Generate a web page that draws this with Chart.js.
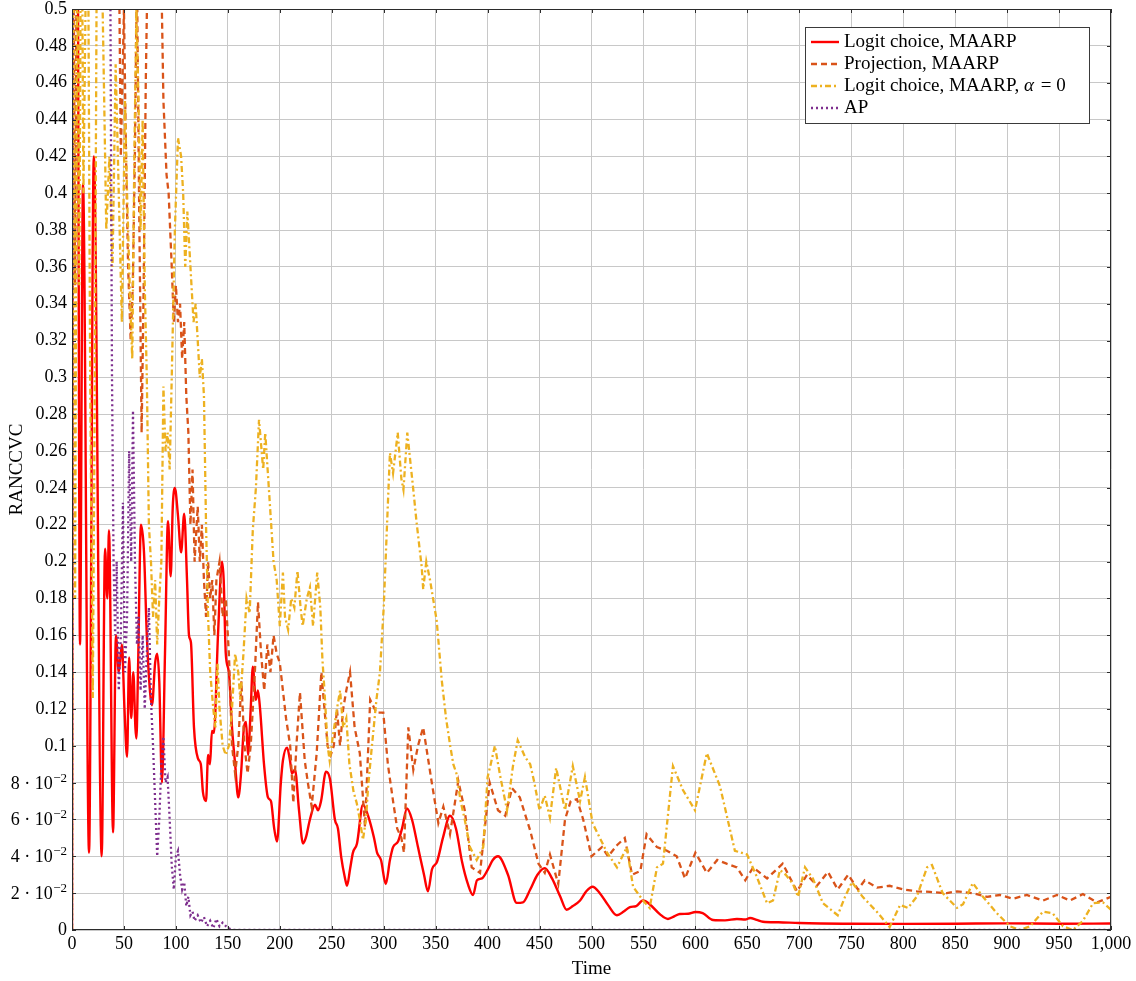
<!DOCTYPE html>
<html>
<head>
<meta charset="utf-8">
<script src="https://cdn.jsdelivr.net/npm/chart.js@4.4.1/dist/chart.umd.min.js"></script>
<style>
html, body { margin: 0; padding: 0; background: #fff; }
#wrap { width: 1136px; height: 981px; position: relative; }
</style>
</head>
<body>
<div id="wrap"><canvas id="myChart"></canvas></div>
<script>
// tick values
var xTicks = [0, 50, 100, 150, 200, 250, 300, 350, 400, 450, 500, 550, 600, 650, 700, 750, 800, 850, 900, 950, 1000];
var yTicks = [0, 0.02, 0.04, 0.06, 0.08, 0.1, 0.12, 0.14, 0.16, 0.18, 0.2, 0.22, 0.24, 0.26, 0.28,
              0.3, 0.32, 0.34, 0.36, 0.38, 0.4, 0.42, 0.44, 0.46, 0.48, 0.5];

var labels = ['Logit choice, MAARP', 'Projection, MAARP', 'Logit choice, MAARP, \u03b1 = 0', 'AP'];

// Logit choice, MAARP
var logitT = [0, 1, 5, 7.7, 10.6, 16.4, 21, 28.6, 31.8, 34,
  35.6, 39.5, 42.3, 45, 48, 50.5, 53, 55, 57, 59,
  61, 62, 63.5, 66.4, 69.3, 72, 75, 77, 80, 82,
  84, 86.6, 89.5, 92.4, 95, 97, 99, 102, 105, 108,
  110.7, 112.6, 114.5, 117.4, 121.3, 124, 126, 129, 131, 132.8,
  134.7, 136.6, 140.5, 144.4, 146, 148, 151, 154, 157, 160,
  162.7, 165.5, 167.5, 169.4, 172, 174, 177, 179, 181, 184.8,
  188.6, 191.5, 194.4, 197.3, 201, 203, 207, 209.8, 211.7, 214.6,
  218.5, 222.3, 225, 229, 233.9, 236.8, 239.7, 244.5, 248.3, 253,
  256, 259, 262.8, 264.7, 267.6, 270.4, 274.3, 280, 285, 290.7,
  293.6, 297.4, 302, 306, 309, 313.8, 317.6, 322.4, 327.2, 333,
  338.8, 342.6, 346.5, 351.3, 357, 363.8, 369.6, 375.4, 381, 386,
  389.8, 394.6, 400.4, 405, 410, 419.6, 428, 434, 441, 448,
  455, 462, 470, 476, 482, 489, 495, 501, 508, 516,
  524.5, 531, 537, 543, 549.6, 556, 566, 573.6, 580, 585,
  593, 600, 607, 617, 628.5, 640, 648, 652.6, 659, 665,
  680, 700, 750, 800, 850, 900, 950, 1000];
var logitV = [0, 0.6, 0.6, 0.155, 0.405, 0.042, 0.42, 0.04, 0.207, 0.18,
  0.217, 0.053, 0.16, 0.14, 0.155, 0.12, 0.094, 0.148, 0.115, 0.14,
  0.11, 0.104, 0.14, 0.22, 0.205, 0.16, 0.13, 0.122, 0.145, 0.15,
  0.135, 0.08, 0.15, 0.222, 0.192, 0.23, 0.24, 0.225, 0.205, 0.226,
  0.19, 0.16, 0.156, 0.11, 0.093, 0.09, 0.075, 0.07, 0.095, 0.09,
  0.108, 0.107, 0.16, 0.2, 0.19, 0.15, 0.14, 0.11, 0.09, 0.072,
  0.085, 0.11, 0.113, 0.095, 0.12, 0.143, 0.125, 0.13, 0.12, 0.09,
  0.072, 0.07, 0.056, 0.048, 0.08, 0.092, 0.099, 0.092, 0.085, 0.087,
  0.065, 0.047, 0.05, 0.06, 0.068, 0.065, 0.07, 0.086, 0.082, 0.06,
  0.055, 0.04, 0.028, 0.024, 0.033, 0.042, 0.047, 0.068, 0.062, 0.05,
  0.042, 0.038, 0.025, 0.038, 0.045, 0.048, 0.055, 0.066, 0.06, 0.045,
  0.03, 0.021, 0.033, 0.037, 0.05, 0.062, 0.055, 0.037, 0.025, 0.019,
  0.027, 0.028, 0.033, 0.038, 0.04, 0.03, 0.0147, 0.015, 0.022, 0.03,
  0.0336, 0.028, 0.018, 0.011, 0.013, 0.016, 0.021, 0.0235, 0.02, 0.0135,
  0.008, 0.01, 0.0124, 0.013, 0.016, 0.014, 0.0085, 0.006, 0.0075, 0.0087,
  0.0088, 0.0098, 0.0092, 0.0054, 0.0052, 0.006, 0.0057, 0.0065, 0.0055, 0.0045,
  0.0042, 0.0038, 0.0034, 0.0033, 0.0034, 0.0036, 0.0034, 0.0035];

// Projection, MAARP
var projT = [0, 1, 3, 5, 44, 47, 50, 52, 54, 56.5,
  58.5, 60.5, 62.5, 64.5, 67, 69, 71, 73.5, 85, 88,
  91, 93, 96, 98, 100, 102, 104, 106, 108, 110,
  112, 114, 116, 118, 121, 123, 125, 127, 129, 131,
  133, 135, 137, 139, 142, 145, 148, 151, 154, 157,
  160, 163, 166, 169, 172, 176, 179, 182, 185, 188,
  191, 194, 197, 200, 203, 206, 210, 213, 216, 219.4,
  224, 227, 230.7, 235.5, 240, 243, 246, 249, 252, 255,
  258, 261, 264, 267.6, 272, 277, 282, 287, 293, 299.6,
  304, 309, 313, 317, 319.5, 323.7, 328.5, 333, 338, 346,
  352.6, 357.4, 363.8, 371.8, 378, 384.7, 392.7, 402, 410, 417,
  423.5, 431, 441, 449, 455, 460, 468, 474.5, 480, 486,
  492, 500, 510, 516, 524.5, 532, 539, 547, 553, 563,
  572.6, 582, 590, 600, 611, 621, 630, 640, 648, 655.6,
  669, 684, 697.8, 707.4, 717, 727.6, 737, 747, 756.5, 763,
  774.8, 787, 800, 813, 825.8, 842, 851.8, 867, 880.7, 893,
  905.7, 919, 934.6, 948, 960.5, 973, 986.5, 1000];
var projV = [0, 0.6, 0.35, 0.6, 0.6, 0.42, 0.5, 0.42, 0.36, 0.32,
  0.35, 0.42, 0.52, 0.4, 0.27, 0.35, 0.46, 0.55, 0.55, 0.45,
  0.41, 0.4, 0.36, 0.33, 0.35, 0.33, 0.34, 0.31, 0.33, 0.29,
  0.27, 0.22, 0.25, 0.2, 0.23, 0.2, 0.22, 0.19, 0.17, 0.2,
  0.18, 0.19, 0.16, 0.19, 0.2, 0.17, 0.18, 0.15, 0.1, 0.085,
  0.1, 0.135, 0.1, 0.085, 0.1, 0.14, 0.178, 0.15, 0.13, 0.155,
  0.14, 0.16, 0.15, 0.145, 0.13, 0.115, 0.1, 0.069, 0.1, 0.129,
  0.092, 0.08, 0.067, 0.096, 0.14, 0.12, 0.1, 0.095, 0.1, 0.12,
  0.1, 0.12, 0.13, 0.14, 0.11, 0.096, 0.056, 0.125, 0.118, 0.118,
  0.09, 0.07, 0.055, 0.05, 0.042, 0.11, 0.087, 0.1, 0.11, 0.081,
  0.058, 0.067, 0.052, 0.081, 0.065, 0.034, 0.031, 0.08, 0.065, 0.062,
  0.077, 0.072, 0.054, 0.036, 0.031, 0.041, 0.025, 0.06, 0.07, 0.071,
  0.06, 0.04, 0.045, 0.04, 0.046, 0.05, 0.03, 0.032, 0.052, 0.045,
  0.043, 0.04, 0.028, 0.042, 0.031, 0.038, 0.036, 0.034, 0.027, 0.034,
  0.028, 0.036, 0.021, 0.03, 0.024, 0.0315, 0.022, 0.03, 0.022, 0.027,
  0.023, 0.024, 0.022, 0.021, 0.0207, 0.02, 0.021, 0.02, 0.018, 0.019,
  0.017, 0.019, 0.016, 0.019, 0.016, 0.0195, 0.015, 0.018];

// Logit choice, MAARP, alpha = 0
var alphaT = [0, 1, 3, 5, 7, 9, 11, 15, 17.5, 20,
  22, 24, 28, 31, 33, 36, 39, 42, 45, 48,
  51, 53, 56, 58, 60, 62, 64, 66, 68, 70,
  72, 74, 76, 78, 80, 82, 84, 86, 88, 90,
  92, 94, 96, 99, 102, 105, 107, 109, 111, 113,
  115, 117, 119, 121, 123, 125, 127, 129, 131, 133,
  136, 138, 140, 142, 145, 148, 151, 154, 157, 160,
  162, 165, 168, 171, 174, 177, 180, 184, 186, 190,
  194, 197, 200, 203, 205, 208, 211, 214, 217, 220,
  222, 226, 229, 232, 236, 239, 241, 243, 246, 248,
  251, 255, 258, 261, 264, 267, 271, 274, 277, 280,
  283, 285, 288, 293, 296.4, 300, 303, 306, 309, 313.5,
  317, 319, 322.7, 328.5, 331.7, 336.6, 338, 341, 344.6, 351,
  355.8, 360, 364, 367, 370, 374, 378, 383, 389.5, 395.8,
  400, 403, 407, 412, 418.7, 424.4, 429, 436, 441, 445,
  450, 455, 460, 466, 474.5, 482, 489, 493.7, 501, 508,
  515, 524.5, 534, 540, 549.6, 556, 563, 568.8, 578.4, 588,
  599.6, 611, 623.7, 638, 649.7, 659, 669, 674.7, 681.4, 687,
  693.9, 698.8, 705.5, 713, 722.8, 737, 744, 750.7, 761, 774.8,
  787, 797, 804.6, 813, 823, 827.7, 838, 851.8, 857.6, 867,
  876.8, 890, 902.8, 912.4, 922, 934.6, 944, 953.8, 963.4, 973,
  982.7, 992.3, 1000];
var alphaV = [0, 0.6, 0.18, 0.55, 0.35, 0.6, 0.4, 0.6, 0.3, 0.126,
  0.3, 0.55, 0.55, 0.45, 0.38, 0.42, 0.36, 0.47, 0.4, 0.33,
  0.45, 0.4, 0.34, 0.31, 0.42, 0.5, 0.45, 0.38, 0.44, 0.35,
  0.3, 0.22, 0.2, 0.17, 0.19, 0.155, 0.18, 0.2, 0.295, 0.26,
  0.27, 0.25, 0.3, 0.38, 0.43, 0.42, 0.4, 0.36, 0.39, 0.37,
  0.35, 0.33, 0.34, 0.32, 0.3, 0.31, 0.29, 0.22, 0.17, 0.14,
  0.12, 0.11, 0.145, 0.12, 0.1, 0.095, 0.1, 0.12, 0.15, 0.14,
  0.125, 0.15, 0.18, 0.172, 0.217, 0.24, 0.277, 0.25, 0.27, 0.235,
  0.2, 0.19, 0.165, 0.194, 0.17, 0.163, 0.18, 0.175, 0.195, 0.175,
  0.165, 0.18, 0.186, 0.165, 0.194, 0.175, 0.147, 0.13, 0.1, 0.092,
  0.105, 0.12, 0.13, 0.11, 0.115, 0.09, 0.075, 0.069, 0.06, 0.049,
  0.06, 0.078, 0.096, 0.125, 0.14, 0.175, 0.217, 0.259, 0.248, 0.27,
  0.245, 0.239, 0.27, 0.239, 0.221, 0.197, 0.185, 0.2, 0.19, 0.168,
  0.136, 0.115, 0.1, 0.09, 0.085, 0.07, 0.06, 0.045, 0.038, 0.045,
  0.083, 0.09, 0.1, 0.084, 0.065, 0.089, 0.103, 0.094, 0.09, 0.08,
  0.065, 0.073, 0.061, 0.088, 0.065, 0.089, 0.07, 0.083, 0.058, 0.05,
  0.042, 0.034, 0.045, 0.0235, 0.016, 0.012, 0.034, 0.036, 0.089, 0.076,
  0.065, 0.096, 0.078, 0.043, 0.041, 0.029, 0.0145, 0.016, 0.0326, 0.03,
  0.025, 0.018, 0.034, 0.028, 0.0145, 0.008, 0.018, 0.026, 0.018, 0.0098,
  0.0016, 0.0136, 0.012, 0.018, 0.034, 0.0353, 0.02, 0.012, 0.014, 0.0255,
  0.018, 0.0092, 0.002, 0, 0.002, 0.01, 0.009, 0.002, 0, 0.005,
  0.0145, 0.015, 0.011];

// AP
var apT = [0, 1, 35, 37, 38.5, 40, 41.5, 43, 45, 47,
  49, 51, 53, 55, 57, 58.7, 60.6, 62.5, 64, 66,
  68, 70, 72, 74, 76, 78, 80, 82, 84, 86,
  88, 90, 92, 94, 96, 98, 100, 102, 104, 106,
  108, 110, 112, 114, 116, 118, 121, 124, 127, 130,
  133, 136, 139, 142, 145, 150, 155, 1000];
var apV = [0, 0.6, 0.6, 0.5, 0.3, 0.2, 0.16, 0.2, 0.13, 0.16,
  0.232, 0.14, 0.17, 0.26, 0.2, 0.282, 0.2, 0.155, 0.17, 0.13,
  0.16, 0.12, 0.15, 0.175, 0.125, 0.1, 0.07, 0.04, 0.06, 0.09,
  0.105, 0.08, 0.083, 0.06, 0.035, 0.022, 0.04, 0.043, 0.03, 0.022,
  0.026, 0.013, 0.018, 0.008, 0.01, 0.005, 0.008, 0.004, 0.007, 0.002,
  0.005, 0.001, 0.006, 0.002, 0.004, 0.001, 0, 0];


function pts(t, v) {
    return t.map(function (x, i) { return {x: x, y: v[i]}; });
}

// small values get a scientific label drawn by the sciLabels plugin
function yLabel(v) {
    var k = Math.round(v * 100);
    if (k === 0) return '0';
    if (k < 10) return '';
    return String(k / 100);
}

var serif = "'Liberation Serif', 'Times New Roman', serif";

// "k · 10^-2" labels with a real superscript
const sciPlugin = {
    id: 'sciLabels',
    afterDraw(chart) {
        const ctx = chart.ctx, a = chart.chartArea, sy = chart.scales.y;
        ctx.save();
        ctx.fillStyle = '#000';
        ctx.textBaseline = 'alphabetic';
        yTicks.forEach(function (v) {
            var k = Math.round(v * 100);
            if (k === 0 || k >= 10) return;
            var y = sy.getPixelForValue(v) + 6;
            var right = a.left - 5;
            ctx.font = '13px ' + serif;
            var sup = '\u22122';
            var sw = ctx.measureText(sup).width;
            ctx.textAlign = 'right';
            ctx.fillText(sup, right, y - 7);
            ctx.font = '18px ' + serif;
            ctx.fillText(k + ' \u00b7 10', right - sw - 0.5, y);
        });
        ctx.restore();
    }
};

// black frame + inward tick marks like pgfplots
const framePlugin = {
    id: 'frame',
    afterDatasetsDraw(chart) {
        const ctx = chart.ctx, a = chart.chartArea, sx = chart.scales.x, sy = chart.scales.y;
        ctx.save();
        ctx.strokeStyle = '#2b2b2b';
        ctx.lineWidth = 1;
        ctx.beginPath();
        sy.ticks.forEach(function (t) {
            var y = Math.round(sy.getPixelForValue(t.value)) + 0.5;
            ctx.moveTo(a.left, y); ctx.lineTo(a.left + 4, y);
            ctx.moveTo(a.right, y); ctx.lineTo(a.right - 4, y);
        });
        sx.ticks.forEach(function (t) {
            var x = Math.round(sx.getPixelForValue(t.value)) + 0.5;
            ctx.moveTo(x, a.bottom); ctx.lineTo(x, a.bottom - 4);
            ctx.moveTo(x, a.top); ctx.lineTo(x, a.top + 4);
        });
        ctx.stroke();
        ctx.strokeRect(Math.round(a.left) + 0.5, Math.round(a.top) + 0.5, Math.round(a.width) - 1, Math.round(a.height) - 1);
        ctx.restore();
    }
};

// boxed legend in the top right corner
const legendPlugin = {
    id: 'boxLegend',
    afterDraw(chart) {
        const ctx = chart.ctx, a = chart.chartArea;
        const bx = a.right - 306, by = a.top + 18, bw = 284, bh = 96;
        ctx.save();
        ctx.fillStyle = '#fff';
        ctx.fillRect(bx, by, bw, bh);
        ctx.strokeStyle = '#3a3a3a';
        ctx.lineWidth = 1;
        ctx.strokeRect(bx + 0.5, by + 0.5, bw, bh);
        chart.data.datasets.forEach(function (ds, i) {
            var y = by + 15 + i * 22;
            ctx.strokeStyle = ds.borderColor;
            ctx.lineWidth = ds.borderWidth;
            ctx.setLineDash(ds.borderDash || []);
            ctx.beginPath();
            ctx.moveTo(bx + 6, y);
            ctx.lineTo(bx + 34, y);
            ctx.stroke();
            ctx.setLineDash([]);
            ctx.fillStyle = '#000';
            ctx.textBaseline = 'middle';
            ctx.font = '19px ' + serif;
            var tx = bx + 39;
            if (i === 2) {
                var head = 'Logit choice, MAARP, ';
                ctx.fillText(head, tx, y);
                tx += ctx.measureText(head).width;
                ctx.font = 'italic 19px ' + serif;
                ctx.fillText('\u03b1', tx, y);
                tx += ctx.measureText('\u03b1').width;
                ctx.font = '19px ' + serif;
                ctx.fillText(' = 0', tx + 2, y);
            } else {
                ctx.fillText(ds.label, tx, y);
            }
        });
        ctx.restore();
    }
};

const data = {
    datasets: [{
        label: labels[0],
        data: pts(logitT, logitV),
        borderColor: '#ff0000',
        borderWidth: 2.4,
        cubicInterpolationMode: 'monotone',
        order: 4
    }, {
        label: labels[1],
        data: pts(projT, projV),
        borderColor: '#d95319',
        borderWidth: 2.3,
        borderDash: [6, 4],
        order: 3
    }, {
        label: labels[2],
        data: pts(alphaT, alphaV),
        borderColor: '#edb120',
        borderWidth: 2.3,
        borderDash: [6, 3, 2, 3],
        order: 2
    }, {
        label: labels[3],
        data: pts(apT, apV),
        borderColor: '#7e2f8e',
        borderWidth: 2.3,
        borderDash: [2, 3],
        order: 1
    }]
};

const config = {
    type: 'line',
    data: data,
    options: {
        responsive: true,
        maintainAspectRatio: false,
        animation: false,
        clip: 0,
        elements: {
            point: { radius: 0 },
            line: { fill: false, borderCapStyle: 'butt' }
        },
        layout: { padding: { left: 0, top: 9, right: 25, bottom: 0 } },
        scales: {
            x: {
                type: 'linear',
                min: 0,
                max: 1000,
                afterBuildTicks: function (s) { s.ticks = xTicks.map(function (v) { return {value: v}; }); },
                afterFit: function (s) { s.height = 51; s.paddingLeft = 0; s.paddingRight = 0; },
                ticks: {
                    autoSkip: false,
                    maxRotation: 0,
                    padding: 3,
                    color: '#000',
                    font: { family: serif, size: 18 },
                    callback: function (v) { return v >= 1000 ? '1,000' : String(v); }
                },
                grid: { color: '#c8c8c8', drawTicks: false },
                border: { display: false },
                title: {
                    display: true,
                    text: 'Time',
                    color: '#000',
                    font: { family: serif, size: 19 },
                    padding: { top: 0, bottom: 1 }
                }
            },
            y: {
                min: 0,
                max: 0.5,
                afterBuildTicks: function (s) { s.ticks = yTicks.map(function (v) { return {value: v}; }); },
                afterFit: function (s) { s.width = 72; s.paddingTop = 0; s.paddingBottom = 0; },
                ticks: {
                    autoSkip: false,
                    padding: 5,
                    color: '#000',
                    font: { family: serif, size: 18 },
                    callback: yLabel
                },
                grid: { color: '#c8c8c8', drawTicks: false },
                border: { display: false },
                title: {
                    display: true,
                    text: 'RANCCVC',
                    color: '#000',
                    font: { family: serif, size: 19 },
                    padding: { top: 6, bottom: 0 }
                }
            }
        },
        plugins: {
            legend: { display: false },
            tooltip: { enabled: false }
        }
    },
    plugins: [framePlugin, legendPlugin, sciPlugin]
};

const myChart = new Chart(document.getElementById('myChart'), config);
</script>
</body>
</html>
